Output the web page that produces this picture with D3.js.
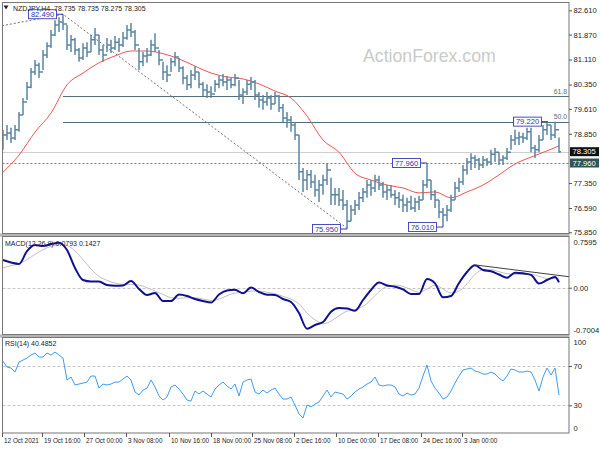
<!DOCTYPE html>
<html><head><meta charset="utf-8">
<script src="https://cdn.jsdelivr.net/npm/d3@7"></script>
<style>body{margin:0;background:#fff}svg{display:block}#wrap{position:relative;width:600px;height:450px}
.lab{position:absolute;font-family:'Liberation Sans',Arial,sans-serif;font-size:7.6px;color:#222;line-height:8px;white-space:nowrap}</style>
</head><body>
<div id="wrap"><svg id="c" width="600" height="450"></svg></div>
<script>
// ---------- DATA ----------
const barHigh = [78.97,79.12,79.03,79.12,79.51,79.94,80.43,80.85,81.10,81.01,
81.40,81.64,82.01,82.31,82.40,82.49,82.16,81.86,81.77,81.46,
81.61,81.64,81.86,82.07,81.86,81.55,81.77,81.71,81.83,81.77,
81.95,82.16,82.22,82.01,81.46,81.34,81.46,81.71,81.91,81.40,
81.04,80.94,81.16,81.34,81.16,80.91,80.64,80.79,80.91,80.73,
80.43,80.36,80.30,80.49,80.61,80.67,80.61,80.55,80.67,80.49,
80.24,80.49,80.58,80.49,80.12,80.03,80.12,80.03,80.12,80.03,
79.76,79.51,79.39,79.21,78.81,77.81,77.75,77.75,77.60,77.44,
77.60,77.96,77.51,77.20,77.20,77.14,76.83,76.68,76.83,77.08,
77.20,77.44,77.44,77.60,77.57,77.38,77.29,77.29,77.14,77.08,
76.99,76.90,76.96,76.90,76.96,77.44,77.96,77.44,77.14,76.83,
76.59,76.68,76.99,77.38,77.51,77.90,78.11,78.26,78.20,78.11,
78.17,78.11,78.36,78.42,78.29,78.20,78.42,78.81,78.97,78.91,
78.88,79.03,79.03,78.51,78.81,79.12,79.22,79.12,79.22,78.735];
const barLow = [78.36,78.66,78.57,78.66,78.91,79.42,79.88,80.24,80.64,80.55,
80.79,81.16,81.46,81.83,81.95,82.01,81.40,81.34,81.25,81.04,
81.10,81.19,81.34,81.55,81.25,81.04,81.34,81.31,81.40,81.34,
81.49,81.71,81.80,81.40,80.79,80.91,81.01,81.22,81.34,80.94,
80.49,80.43,80.73,80.91,80.73,80.36,80.18,80.24,80.49,80.24,
80.00,79.94,79.94,80.12,80.24,80.30,80.18,80.24,80.30,79.88,
79.76,80.03,80.18,79.88,79.64,79.58,79.70,79.58,79.76,79.51,
79.21,79.03,78.91,78.66,77.44,77.08,77.14,77.20,76.93,76.77,
76.99,77.29,76.68,76.68,76.65,76.53,75.95,76.19,76.38,76.53,
76.77,76.90,76.96,77.08,77.14,76.90,76.83,76.90,76.68,76.59,
76.47,76.47,76.53,76.47,76.53,76.83,77.20,76.83,76.59,76.28,
76.01,76.19,76.47,76.83,77.08,77.29,77.60,77.75,77.81,77.75,
77.81,77.87,77.90,77.99,77.90,77.90,78.05,78.36,78.51,78.51,
78.57,78.66,78.29,78.11,78.29,78.66,78.81,78.66,78.72,78.275];
const barClose = [78.81,78.87,78.72,78.97,79.42,79.82,80.27,80.73,80.94,80.73,
81.25,81.52,81.86,82.16,82.25,82.19,81.55,81.71,81.40,81.16,
81.46,81.34,81.71,81.86,81.40,81.25,81.55,81.46,81.64,81.55,
81.77,82.01,81.95,81.55,81.04,81.22,81.25,81.55,81.46,81.10,
80.73,80.64,81.04,81.19,80.85,80.55,80.34,80.64,80.73,80.36,
80.18,80.12,80.06,80.36,80.49,80.43,80.49,80.34,80.55,80.03,
80.12,80.36,80.43,80.03,79.88,79.82,79.94,79.76,80.00,79.64,
79.33,79.27,79.12,78.81,77.69,77.44,77.60,77.38,77.14,77.29,
77.44,77.75,76.99,76.99,76.83,76.68,76.19,76.53,76.68,76.90,
77.08,77.29,77.20,77.44,77.29,77.08,77.14,76.99,76.90,76.83,
76.68,76.77,76.59,76.77,76.83,77.29,77.44,76.99,76.83,76.47,
76.38,76.53,76.83,77.20,77.38,77.75,77.99,78.11,78.05,77.90,
78.05,77.99,78.23,78.29,78.05,78.11,78.29,78.66,78.72,78.75,
78.72,78.91,78.42,78.36,78.66,78.97,79.12,78.81,78.97,78.305];

const maBars = [0,4,8,12,16,20,24,28,32,36,40,44,48,52,56,60,64,68,72,76,80,84,88,92,96,100,104,108,112,116,120,124,128,132,136,139];
const maValues = [77.68,78.20,78.90,79.48,80.34,80.70,81.01,81.22,81.37,81.37,
81.29,81.13,80.91,80.70,80.58,80.52,80.37,80.15,79.94,79.39,
78.66,78.29,77.65,77.44,77.29,77.20,77.05,77.08,76.90,77.08,
77.29,77.60,77.93,78.14,78.33,78.48];

const macdBars = [0,2,4,6,8,10,12,14,16,18,20,22,24,26,28,30,32,34,36,38,
40,42,44,46,48,50,52,54,56,58,60,62,64,66,68,70,72,74,76,78,
80,82,84,86,88,90,92,94,96,98,100,102,104,106,108,110,112,114,116,118,
120,122,124,126,128,130,132,134,136,138,139];
const macdValues = [0.415,0.377,0.355,0.549,0.639,0.624,0.654,0.674,0.564,0.295,
0.115,0.093,0.093,0.040,0.028,0.033,0.100,-0.019,-0.109,-0.079,
-0.199,-0.199,-0.102,-0.124,-0.169,-0.199,-0.222,-0.102,-0.042,-0.030,
-0.084,0.003,-0.064,-0.105,-0.109,-0.169,-0.214,-0.379,-0.614,-0.558,
-0.514,-0.359,-0.304,-0.311,-0.344,-0.184,-0.034,0.078,0.034,0.015,
-0.024,-0.094,-0.094,0.130,0.066,-0.144,-0.124,0.070,0.235,0.335,
0.265,0.246,0.198,0.150,0.223,0.216,0.193,0.063,0.115,0.160,0.0793];
const signalValues = [0.30,0.33,0.36,0.42,0.50,0.57,0.62,0.64,0.63,0.55,
0.42,0.28,0.17,0.11,0.07,0.05,0.05,0.04,0.00,-0.05,
-0.10,-0.15,-0.16,-0.15,-0.15,-0.17,-0.19,-0.17,-0.12,-0.08,
-0.07,-0.05,-0.05,-0.07,-0.09,-0.13,-0.17,-0.24,-0.38,-0.48,
-0.54,-0.50,-0.42,-0.35,-0.33,-0.28,-0.18,-0.06,0.02,0.04,
0.02,-0.03,-0.07,-0.02,0.04,-0.02,-0.08,-0.05,0.06,0.20,
0.27,0.27,0.24,0.21,0.20,0.20,0.20,0.17,0.14,0.14,0.1427];

const rsiValues = [75.0,69.0,68.0,63.9,74.1,76.1,78.2,81.2,83.3,79.2,
79.2,83.3,81.2,84.3,81.2,78.2,55.8,58.8,50.7,51.7,
52.7,53.7,59.8,59.8,47.6,51.7,50.7,51.7,53.7,53.7,
56.8,59.8,55.8,43.6,40.5,45.6,47.6,55.8,48.7,39.5,
35.4,38.5,48.7,50.7,46.6,41.5,35.4,34.4,44.6,41.5,
44.6,41.5,38.5,46.6,50.7,53.7,49.7,46.6,51.7,39.5,
53.7,55.8,56.8,43.6,41.5,45.6,42.5,45.6,47.6,41.5,
36.4,36.4,38.5,30.3,21.2,17.1,30.3,28.3,31.3,33.4,
39.5,45.6,38.5,43.6,42.5,41.5,36.4,39.5,43.6,46.6,
48.7,51.7,53.7,58.8,50.7,49.7,50.7,50.7,48.7,41.5,
39.5,42.5,40.5,41.5,47.6,59.8,71.0,54.8,47.6,42.5,
36.4,38.5,44.6,52.7,59.8,66.0,67.0,68.0,64.9,63.9,
61.9,61.9,63.9,61.9,57.8,54.8,59.8,67.0,66.0,63.9,
63.9,64.9,63.9,55.8,44.6,58.8,68.0,60.9,68.0,40.4852];

const priceTicks = [82.610,81.870,81.110,80.350,79.610,78.850,77.350,76.590,75.850];
const macdTicks = [0.7595,0.00,-0.7004];
const macdTickLabels = ["0.7595","0.00","-0.7004"];
const rsiTicks = [100,70,30,0];
const rsiTickLabels = ["100","70","30","0"];
const timeTickBars = [-0.25,9.75,20.25,30.75,41.5,52,62.25,72.75,83.25,93.75,104.5,114.75];
const timeTickLabels = ["12 Oct 2021","19 Oct 16:00","27 Oct 00:00","3 Nov 08:00","10 Nov 16:00","18 Nov 00:00","25 Nov 08:00","2 Dec 16:00","10 Dec 00:00","17 Dec 08:00","24 Dec 16:00","3 Jan 00:00"];

const fibLevels = [{label:"61.8", value:79.99},{label:"50.0", value:79.22}];
const fibStartBar = 15;
const swingLabels = [
  {bar:15, value:82.49, text:"82.490"},
  {bar:86, value:75.95, text:"75.950"},
  {bar:106, value:77.96, text:"77.960"},
  {bar:110, value:76.01, text:"76.010"},
  {bar:136.25, value:79.22, text:"79.220"}];
const zigzag = [{bar:-0.25, value:82.14},{bar:15, value:82.49},{bar:86.25, value:75.95}];
const currentPrice = 78.305;
const refLevel = 77.960;
const macdTrend = [{bar:118.25, value:0.34},{bar:141.5, value:0.165}];
const header = "NZDJPY,H4  78.735 78.735 78.275 78.305";
const macdLabel = "MACD(12,26,9) 0.0793 0.1427";
const rsiLabel = "RSI(14) 40.4852";

// ---------- LAYOUT ----------
const L = 2.5, R = 569;
const P = {main:[2.5,233.5], macd:[236.5,334.5], rsi:[337.5,433]};
const svg = d3.select("#c");
const font = "'Liberation Sans', Arial, sans-serif";

const x = d3.scaleLinear().domain([0,139]).range([3,559]);
const yMain = d3.scaleLinear().domain([75.85,82.61]).range([232.3,10.3]);
const yMacd = d3.scaleLinear().domain([-0.7004,0.7595]).range([334.5,237]);
const yRsi = d3.scaleLinear().domain([0,100]).range([434.8,336.6]);

svg.append("rect").attr("x",0).attr("y",233.5).attr("width",R+0.5).attr("height",3).attr("fill","#b4b4b4");
svg.append("rect").attr("x",0).attr("y",334.5).attr("width",R+0.5).attr("height",3).attr("fill","#b4b4b4");

const defs = svg.append("defs");
Object.entries(P).forEach(([k,[t,b]])=>{
  defs.append("clipPath").attr("id","clip-"+k).append("rect")
    .attr("x",L).attr("y",t).attr("width",R-L).attr("height",b-t);
});

svg.append("text").attr("x",363).attr("y",62).attr("font-family",font).attr("font-size",17.7)
  .attr("fill","#cacaca").text("ActionForex.com");

const gMain = svg.append("g").attr("clip-path","url(#clip-main)");

fibLevels.forEach(f=>{
  gMain.append("line").attr("x1",x(fibStartBar)).attr("x2",R).attr("y1",Math.round(yMain(f.value))+0.5).attr("y2",Math.round(yMain(f.value))+0.5)
    .attr("stroke","#56707a").attr("stroke-width",1);
  svg.append("text").attr("x",567).attr("y",yMain(f.value)-2.5).attr("text-anchor","end")
    .attr("font-family",font).attr("font-size",6.8).attr("fill","#56707a").text(f.label);
});
gMain.append("line").attr("x1",L).attr("x2",R).attr("y1",Math.round(yMain(currentPrice))+0.5).attr("y2",Math.round(yMain(currentPrice))+0.5)
  .attr("stroke","#cfcfcf").attr("stroke-width",1);
gMain.append("line").attr("x1",L).attr("x2",R).attr("y1",Math.round(yMain(refLevel))+0.5).attr("y2",Math.round(yMain(refLevel))+0.5)
  .attr("stroke","#7a7a7a").attr("stroke-width",1).attr("stroke-dasharray","2,2");

gMain.append("path").datum(zigzag)
  .attr("d", d3.line().x(d=>x(d.bar)).y(d=>yMain(d.value)))
  .attr("fill","none").attr("stroke","#6e6e6e").attr("stroke-width",1).attr("stroke-dasharray","2,2");

gMain.append("path").datum(maBars.map((b,i)=>({b, v:maValues[i]})))
  .attr("d", d3.line().x(d=>x(d.b)).y(d=>yMain(d.v)).curve(d3.curveMonotoneX))
  .attr("fill","none").attr("stroke","#f25454").attr("stroke-width",1);

const barColor = "#5a84a0";
const idx = d3.range(barHigh.length);
const gb = gMain.append("g").attr("stroke",barColor).attr("stroke-width",1.5);
gb.selectAll("line.hl").data(idx).join("line").attr("class","hl")
  .attr("x1",i=>x(i)).attr("x2",i=>x(i)).attr("y1",i=>yMain(barHigh[i])).attr("y2",i=>yMain(barLow[i]));
gb.selectAll("line.c").data(idx).join("line").attr("class","c")
  .attr("x1",i=>x(i)).attr("x2",i=>x(i)+2).attr("y1",i=>yMain(barClose[i])).attr("y2",i=>yMain(barClose[i]));
gb.selectAll("line.o").data(idx.slice(1)).join("line").attr("class","o")
  .attr("x1",i=>x(i)-2).attr("x2",i=>x(i)).attr("y1",i=>yMain(barClose[i-1])).attr("y2",i=>yMain(barClose[i-1]));

swingLabels.forEach(s=>{
  const px = x(s.bar), py = yMain(s.value);
  const bw = 28, bh = 9, rx = px - 6.5;
  svg.append("line").attr("x1",rx).attr("x2",px).attr("y1",py).attr("y2",py).attr("stroke","#3a3ab8").attr("stroke-width",1);
  svg.append("rect").attr("x",rx-bw).attr("y",py-bh/2).attr("width",bw).attr("height",bh)
    .attr("fill","#fff").attr("stroke","#3a3ab8").attr("stroke-width",0.9);
  svg.append("text").attr("x",rx-bw/2).attr("y",py+2.8).attr("text-anchor","middle")
    .attr("font-family",font).attr("font-size",7.6).attr("fill","#3434a8").text(s.text);
});

// ---------- MACD ----------
const gMacd = svg.append("g").attr("clip-path","url(#clip-macd)");
gMacd.append("line").attr("x1",L).attr("x2",R).attr("y1",Math.round(yMacd(0))+0.5).attr("y2",Math.round(yMacd(0))+0.5)
  .attr("stroke","#c4c4c4").attr("stroke-dasharray","3,2");
gMacd.append("path").datum(macdBars.map((b,i)=>({b,v:signalValues[i]})))
  .attr("d", d3.line().x(d=>x(d.b)).y(d=>yMacd(d.v)).curve(d3.curveMonotoneX))
  .attr("fill","none").attr("stroke","#c0c0c0").attr("stroke-width",1);
gMacd.append("path").datum(macdBars.map((b,i)=>({b,v:macdValues[i]})))
  .attr("d", d3.line().x(d=>x(d.b)).y(d=>yMacd(d.v)).curve(d3.curveMonotoneX))
  .attr("fill","none").attr("stroke","#101090").attr("stroke-width",2);
gMacd.append("path").datum(macdTrend)
  .attr("d", d3.line().x(d=>x(d.bar)).y(d=>yMacd(d.value)))
  .attr("fill","none").attr("stroke","#404040").attr("stroke-width",1);

// ---------- RSI ----------
const gRsi = svg.append("g").attr("clip-path","url(#clip-rsi)");
[70,30].forEach(v=>{
  gRsi.append("line").attr("x1",L).attr("x2",R).attr("y1",Math.round(yRsi(v))+0.5).attr("y2",Math.round(yRsi(v))+0.5)
    .attr("stroke","#c4c4c4").attr("stroke-dasharray","3,2");
});
gRsi.append("path").datum(rsiValues)
  .attr("d", d3.line().x((d,i)=>x(i)).y(d=>yRsi(d)))
  .attr("fill","none").attr("stroke","#3d9bf0").attr("stroke-width",1);

// ---------- frames ----------
Object.values(P).forEach(([t,b])=>{
  svg.append("rect").attr("x",L).attr("y",t).attr("width",R-L).attr("height",b-t)
    .attr("fill","none").attr("stroke","#777").attr("stroke-width",1);
});

// ---------- axes ----------
function styleAxis(g, fs){
  g.select(".domain").remove();
  g.selectAll(".tick line").attr("stroke","#555");
  g.selectAll(".tick text").attr("font-family",font).attr("font-size",fs).attr("fill","#222");
}
const axMain = svg.append("g").attr("transform",`translate(${R},0)`)
  .call(d3.axisRight(yMain).tickValues(priceTicks).tickSize(3).tickPadding(1.5).tickFormat(d3.format(".3f")));
styleAxis(axMain,7.6);

// indicator axes: inner ticks via d3 axis; end labels clamped inside panel (HTML overlay for RSI ends)
function indicatorAxis(scale, ticks, labels, top, bottom, useHtml){
  const inner = ticks.filter(d=>scale(d) >= top + 4 && scale(d) <= bottom - 4);
  const ends = ticks.filter(d=>!inner.includes(d));
  const fmt = d=>labels[ticks.indexOf(d)];
  const g1 = svg.append("g").attr("transform",`translate(${R},0)`)
    .call(d3.axisRight(scale).tickValues(inner).tickSize(3).tickPadding(1.5).tickFormat(fmt));
  styleAxis(g1,7.6);
  const [d0,d1] = scale.domain();
  const inset = d3.scaleLinear().domain([d0,d1]).range([bottom - 4.5, top + 5.5]);
  if (useHtml) {
    d3.select("#wrap").selectAll(null).data(ends).join("div").attr("class","lab")
      .style("left",(R+4.5)+"px").style("top",d=>(inset(d)-4)+"px").text(fmt);
  } else {
    const g2 = svg.append("g").attr("transform",`translate(${R+3},0)`)
      .call(d3.axisRight(inset).tickValues(ends).tickSize(0).tickPadding(1.5).tickFormat(fmt));
    styleAxis(g2,7.6);
  }
}
indicatorAxis(yMacd, macdTicks, macdTickLabels, P.macd[0], P.macd[1], false);
indicatorAxis(yRsi, rsiTicks, rsiTickLabels, P.rsi[0], P.rsi[1], true);

const axX = svg.append("g").attr("transform",`translate(0,${P.rsi[1]})`)
  .call(d3.axisBottom(x).tickValues(timeTickBars).tickSize(4).tickFormat((d,i)=>timeTickLabels[i]));
styleAxis(axX,6.4);
axX.selectAll(".tick text").attr("text-anchor","start").attr("dx","1.5").attr("y",5);

function priceBox(v, bg){
  const py = yMain(v);
  svg.append("rect").attr("x",R+1).attr("y",py-4.5).attr("width",29).attr("height",9).attr("fill",bg);
  svg.append("text").attr("x",R+3.5).attr("y",py+2.8).attr("font-family",font).attr("font-size",7.6)
    .attr("fill","#fff").text(v.toFixed(3));
}
priceBox(currentPrice,"#111");
priceBox(refLevel,"#2f5656");

svg.append("path").attr("d","M3.5,5.5 L8.5,5.5 L6,9.5 Z").attr("fill","#222");
svg.append("text").attr("x",13).attr("y",10.5).attr("font-family",font).attr("font-size",7).attr("fill","#222")
  .style("white-space","pre").text(header);
svg.append("text").attr("x",5).attr("y",246).attr("font-family",font).attr("font-size",7).attr("fill","#222").text(macdLabel);
svg.append("text").attr("x",5).attr("y",346).attr("font-family",font).attr("font-size",7).attr("fill","#222").text(rsiLabel);
</script>
</body></html>
